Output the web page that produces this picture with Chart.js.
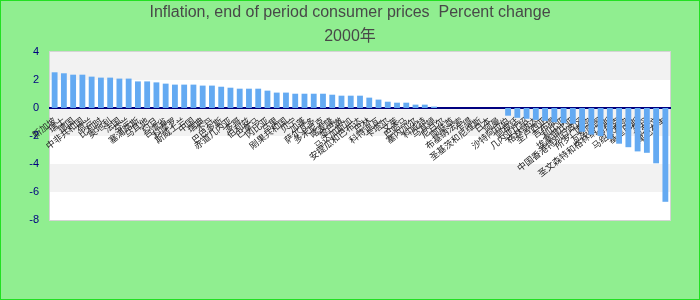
<!DOCTYPE html>
<html>
<head>
<meta charset="utf-8">
<script src="https://cdn.jsdelivr.net/npm/chart.js@4/dist/chart.umd.min.js"></script>
<style>
html,body{margin:0;padding:0;background:#90EE90;}
#wrap{width:700px;height:300px;position:relative;}
</style>
</head>
<body>
<div id="wrap"><canvas id="c" width="700" height="300"></canvas></div>
<script>
const titleLines = ['Inflation, end of period consumer prices  Percent change', '2000年'];
const countries = [
  '新加坡','瑞士','德国','中非共和国','荷兰','比利时','奥地利','法国','芬兰','塞浦路斯',
  '马耳他','约旦','台湾省','科摩罗','斯威士兰','中国','瑞典','不丹','巴巴多斯','赤道几内亚',
  '多哥','伯利兹','巴拿马','冈比亚','马里','刚果共和国','贝宁','加蓬','萨尔瓦多','多米尼克',
  '喀麦隆','黎巴嫩','马达加斯加','安提瓜和巴布达','巴林','科特迪瓦','卡塔尔','文莱','巴哈马','塞内加尔',
  '科威特','马其顿','尼日尔','阿联酋','布基纳法索','乍得','圣基茨和尼维斯','日本','阿曼','沙特阿拉伯',
  '阿根廷','几内亚比绍','格林纳达','圣卢西亚','吉布提','利比亚','埃塞俄比亚','中国香港特别行政区','所罗门群岛','瓦努阿图',
  '圣文森特和格林纳丁斯','伊拉克','马绍尔群岛','基里巴斯','苏丹','东帝汶','津巴布韦'
];
const inflation = [
  2.55,2.48,2.38,2.38,2.24,2.17,2.17,2.10,2.10,1.90,
  1.90,1.83,1.74,1.67,1.67,1.67,1.60,1.60,1.52,1.45,
  1.38,1.38,1.38,1.24,1.10,1.10,1.02,1.02,1.02,1.02,
  0.95,0.88,0.88,0.88,0.74,0.60,0.45,0.38,0.38,0.24,
  0.24,0.10,0,0,0,0,0,0,0,-0.55,
  -0.70,-0.77,-0.85,-0.92,-1.02,-1.08,-1.12,-1.70,-1.90,-2.00,
  -2.20,-2.55,-2.80,-3.10,-3.20,-3.95,-6.70
];
const yTicks = [4, 2, 0, -2, -4, -6, -8];
const bandRanges = [[2, 4], [-2, 0], [-6, -4]];

const bgPlugin = {
  id: 'bg',
  beforeDraw(chart) {
    const {ctx, chartArea: a, scales: {y}} = chart;
    ctx.save();
    ctx.fillStyle = '#90EE90';
    ctx.fillRect(0, 0, chart.width, chart.height);
    ctx.strokeStyle = '#22e022';
    ctx.lineWidth = 1;
    ctx.strokeRect(0.5, 0.5, chart.width - 1, chart.height - 1);
    ctx.fillStyle = '#ffffff';
    ctx.fillRect(a.left, a.top, a.right - a.left, a.bottom - a.top);
    ctx.fillStyle = '#f2f2f2';
    bandRanges.forEach(([lo, hi]) => {
      const t = y.getPixelForValue(hi), b = y.getPixelForValue(lo);
      ctx.fillRect(a.left, t, a.right - a.left, b - t);
    });
    ctx.strokeStyle = '#d4d4d4';
    ctx.strokeRect(a.left - 0.5, a.top - 0.5, a.right - a.left + 1, a.bottom - a.top + 1);
    ctx.restore();
  }
};

new Chart(document.getElementById('c'), {
  type: 'bar',
  data: {
    labels: countries,
    datasets: [{
      data: inflation,
      backgroundColor: '#64aaf2',
      borderWidth: 0,
      categoryPercentage: 1,
      barPercentage: 0.63
    }]
  },
  options: {
    responsive: false,
    animation: false,
    layout: {padding: {left: 0, right: 0, top: 0, bottom: 80}},
    plugins: {
      legend: {display: false},
      tooltip: {enabled: false},
      title: {
        display: true,
        text: titleLines,
        color: '#484848',
        font: {family: "'Liberation Sans', 'Noto Sans CJK SC'", size: 16, weight: 'normal', lineHeight: 1.5},
        padding: {top: 1, bottom: 3}
      }
    },
    scales: {
      x: {
        position: {y: 0},
        grid: {display: false, drawTicks: false},
        border: {display: true, color: '#000080', width: 2},
        ticks: {
          autoSkip: false,
          minRotation: 38,
          maxRotation: 38,
          padding: 7,
          color: '#222222',
          font: {family: "'Noto Sans CJK SC'", size: 9}
        },
        afterFit: s => { s.paddingLeft = 0; s.paddingRight = 0; }
      },
      y: {
        min: -8,
        max: 4,
        afterBuildTicks: s => { s.ticks = yTicks.map(v => ({value: v})); },
        grid: {display: false, drawTicks: false},
        border: {display: false},
        ticks: {
          padding: 11,
          color: '#000080',
          font: {family: "'Liberation Sans', Arial", size: 11}
        },
        afterFit: s => { s.width = 50; }
      },
      yRight: {
        position: 'right',
        min: -8,
        max: 4,
        grid: {display: false, drawTicks: false},
        border: {display: false},
        ticks: {display: false},
        afterFit: s => { s.width = 30; }
      }
    }
  },
  plugins: [bgPlugin]
});
</script>
</body>
</html>
